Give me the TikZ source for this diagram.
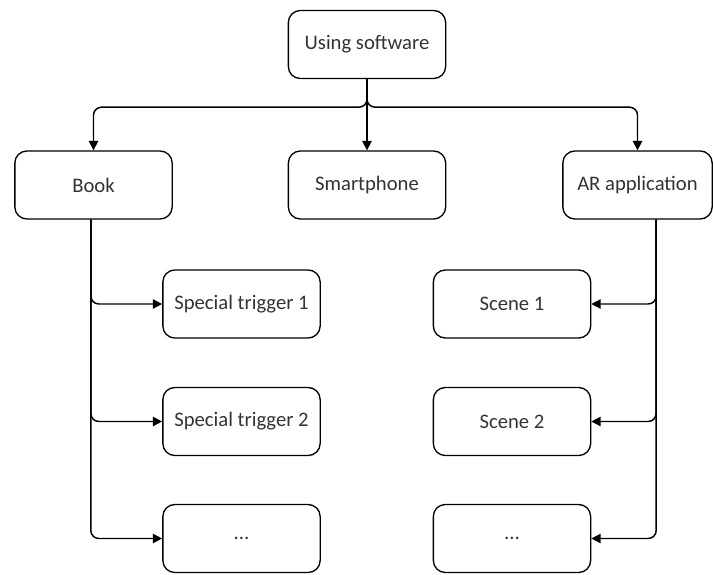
\documentclass[tikz,border=0pt]{standalone}
\usepackage{fontspec}
\setmainfont{Carlito}
\usetikzlibrary{arrows.meta}
\tikzset{
	box/.style={draw,rounded corners=9pt,line width=1pt,minimum width=118pt,minimum height=51pt,inner sep=2pt,text=black!80,font=\fontsize{15.5}{18}\selectfont},
	link/.style={->,line width=1.1pt,rounded corners=6pt}
}
\begin{document}
\begin{tikzpicture}[x=0.75pt,y=-0.75pt,>={Triangle[length=7pt,width=7pt]}]
	\useasboundingbox (0,0) rectangle (713,574);
	\node[box] (top) at (367,44.5) {Using software};
	\node[box] (book) at (93.5,185) {Book};
	\node[box] (smart) at (367,185) {Smartphone};
	\node[box,minimum width=112pt] (ar) at (637.5,185) {AR application};
	\node[box] (trig1) at (241.5,304) {Special trigger 1};
	\node[box] (trig2) at (241.5,421.5) {Special trigger 2};
	\node[box] (more1) at (241.5,538.5) {...};
	\node[box] (scene1) at (512,304) {Scene 1};
	\node[box] (scene2) at (512,421.5) {Scene 2};
	\node[box] (more2) at (512,538.5) {...};
	% top level
	\draw[link] (top.south) -- (smart.north);
	\draw[link] (top.south) -- ++(0,28) -| (book.north);
	\draw[link] (top.south) -- ++(0,28) -| (ar.north);
	% book side
	\draw[link] ([xshift=-2pt]book.south) |- (trig1.west);
	\draw[link] ([xshift=-2pt]book.south) |- (trig2.west);
	\draw[link] ([xshift=-2pt]book.south) |- (more1.west);
	% ar side
	\draw[link] ([xshift=14pt]ar.south) |- (scene1.east);
	\draw[link] ([xshift=14pt]ar.south) |- (scene2.east);
	\draw[link] ([xshift=14pt]ar.south) |- (more2.east);
\end{tikzpicture}
\end{document}
